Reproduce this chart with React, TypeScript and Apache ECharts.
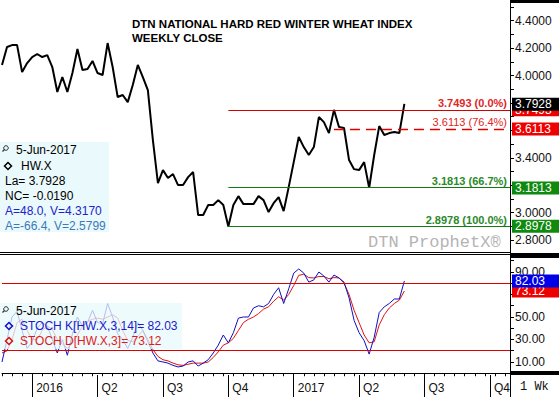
import React, { useEffect, useRef } from "react";
import * as echarts from "echarts";

// ---- categories: weekly closes (Mondays), from 23-Nov-2015 out to the end of 2017 Q4 axis
const WEEK_MS = 7 * 24 * 3600 * 1000;
const FIRST_WEEK = Date.UTC(2015, 10, 23);
const WEEK_COUNT = 102;
const weeks: string[] = Array.from({ length: WEEK_COUNT }, (_, i) =>
  new Date(FIRST_WEEK + i * WEEK_MS).toISOString().slice(0, 10)
);

// ---- DTN National Hard Red Winter Wheat Index, weekly close
const closes = [
  4.077, 4.208, 4.222, 4.222, 4.025, 4.091, 4.135, 4.157, 4.135, 4.149,
  4.062, 3.88, 3.989, 3.88, 4.018, 4.193, 4.04, 4.047, 4.106, 4.018,
  4.004, 4.237, 4.062, 3.843, 3.858, 3.806, 3.931, 4.077, 3.989, 3.894,
  3.529, 3.215, 3.31, 3.252, 3.281, 3.201, 3.201, 3.259, 3.296, 2.982,
  2.982, 3.055, 3.055, 3.091, 3.055, 2.8978, 3.055, 3.12, 3.062, 3.062,
  3.062, 3.12, 3.091, 3.004, 3.069, 3.113, 3.011, 3.186, 3.368, 3.551,
  3.478, 3.42, 3.478, 3.697, 3.66, 3.58, 3.7493, 3.624, 3.617, 3.383,
  3.317, 3.31, 3.368, 3.1813, 3.42, 3.631, 3.566, 3.58, 3.588, 3.58,
  3.7928,
];

// ---- Stochastics K (3,14) and D (3)
const stochK = [
  10, 30, 50, 55, 38, 22, 28, 40, 45, 42,
  30, 18, 30, 16, 35, 50, 42, 45, 56, 45,
  44, 62, 50, 35, 30, 22, 32, 45, 38, 28,
  18, 11, 10, 9, 7, 5.6, 6.4, 10, 11, 6.4,
  9, 12, 18, 25, 34, 27, 36, 49, 50, 50,
  58, 60, 59, 62, 70, 76, 62, 75, 89, 92.7,
  89, 81, 83, 90, 86.4, 81, 87.3, 84.7, 81, 67,
  47, 36, 29, 17, 32, 54, 59, 62, 66, 66,
  82.03,
];
const stochD = [
  18, 20, 30, 45, 48, 38, 30, 30, 38, 42,
  39, 30, 26, 22, 27, 34, 42, 46, 48, 49,
  48, 50, 52, 49, 38, 29, 28, 33, 38, 30,
  21, 15, 12, 11, 9, 7.5, 7, 8, 9, 9,
  9, 10, 14, 19, 25, 27, 31, 38, 45, 48,
  50, 53, 57, 59, 64, 68, 65, 70, 78, 87,
  88, 85, 84.7, 86, 86, 84, 85, 84.7, 80, 70,
  56, 45, 34, 27, 28, 43, 52, 58, 62, 65,
  73.12,
];

// ---- Fibonacci levels
const fibValues = [3.7493, 3.6113, 3.1813, 2.8978];
const fibTexts = ["3.7493 (0.0%)", "3.6113 (76.4%)", "3.1813 (66.7%)", "2.8978 (100.0%)"];
const fibStartWeek = ["2016-10-03", "2017-02-27", "2016-10-03", "2016-10-03"];

// ---- stochastic bands
const stochBands = [80, 20];

// ---- axis ticks / labels (labels hidden behind the value boxes are left out)
const priceLabelValues = [2.8, 3.0, 3.4, 4.0, 4.2, 4.4];
const priceTickValues = [2.8, 2.9, 3.0, 3.1, 3.2, 3.3, 3.4, 3.5, 3.6, 3.7, 3.8, 3.9, 4.0, 4.1, 4.2, 4.3, 4.4, 4.5];
const stochLabelValues = [10, 30, 50, 90];
const stochTickValues = [0, 10, 20, 30, 40, 50, 60, 70, 80, 90, 100];

const lastDate = "5-Jun-2017";
const topLegend = ["La= 3.7928", "NC= -0.0190", "A=48.0, V=4.3170", "A=-66.4, V=2.5799"];

const FONT = '"Liberation Sans", Arial, sans-serif';

function quarterOf(d: string) {
  return Math.floor((Number(d.slice(5, 7)) - 1) / 3);
}
function isQuarterStart(i: number) {
  if (i <= 0) return false;
  return quarterOf(weeks[i]) !== quarterOf(weeks[i - 1]);
}
function quarterLabel(d: string) {
  const q = quarterOf(d);
  return q === 0 ? d.slice(0, 4) : "Q" + (q + 1);
}

const RED_LINE = "#dd0000";
const GREEN_LINE = "#137a13";
const fibLineColor = ["#d40000", "#e00000", GREEN_LINE, GREEN_LINE];
const fibTextColor = ["#e02626", "#e02626", "#2a8a2a", "#2a8a2a"];
const fibBoxColor = ["#ee0000", "#ee0000", "#0f8a0f", "#0f8a0f"];
const HIDDEN_LINE = { color: "rgba(0,0,0,0)", width: 0 };

function boxLabel(text: string, bg: string) {
  return {
    show: true,
    position: "end",
    distance: 2,
    formatter: text,
    color: "#fff",
    backgroundColor: bg,
    fontSize: 12,
    fontFamily: FONT,
    lineHeight: 13,
    height: 13,
    width: 42,
    padding: [0, 2, 0, 3],
    align: "left",
  };
}

export default function App() {
  const ref = useRef<HTMLDivElement>(null);
  useEffect(() => {
    document.body.style.margin = "0";
    if (!ref.current) return;
    const chart = echarts.init(ref.current, undefined, { renderer: "svg" });
    const last = weeks[WEEK_COUNT - 1];

    const fibLines = fibValues.map((v, k) => {
      const mk = () => ({
        lineStyle: { color: fibLineColor[k], width: k === 1 ? 1.3 : 1, type: k === 1 ? [10, 6] : "solid", opacity: 1 },
        label: {
          show: true,
          position: "insideEndTop",
          distance: [3, 1],
          formatter: fibTexts[k],
          color: fibTextColor[k],
          fontSize: 11,
          fontWeight: k === 1 ? "normal" : "bold",
          fontFamily: FONT,
        },
      });
      return [
        { coord: [fibStartWeek[k], v], ...mk() },
        { coord: [last, v], ...mk() },
      ];
    });
    const fibBoxes = fibValues.map((v, k) => ({
      yAxis: v,
      lineStyle: HIDDEN_LINE,
      label: boxLabel(v.toFixed(4), fibBoxColor[k]),
    }));
    const lastClose = closes[closes.length - 1];
    const lastK = stochK[stochK.length - 1];
    const lastD = stochD[stochD.length - 1];

    const option: any = {
      animation: false,
      backgroundColor: "#ffffff",
      grid: [
        { left: 2, right: 49, top: 0, height: 252 },
        { left: 2, right: 49, top: 255, height: 120 },
      ],
      xAxis: [
        { gridIndex: 0, type: "category", data: weeks, boundaryGap: false, show: false, position: "bottom" },
        {
          gridIndex: 1, type: "category", data: weeks, boundaryGap: false, position: "bottom", offset: 0,
          axisLine: { show: true, lineStyle: { color: "#000", width: 1 } },
          axisTick: { show: true, interval: (i: number) => i % 2 === 0, length: 3, lineStyle: { color: "#000" } },
          axisLabel: { show: false },
          splitLine: { show: false },
        },
        {
          gridIndex: 1, type: "category", data: weeks, boundaryGap: false, position: "bottom", offset: 0,
          axisLine: { show: false },
          axisTick: { show: true, interval: (i: number) => isQuarterStart(i), length: 22, lineStyle: { color: "#000" } },
          axisLabel: {
            show: true, interval: (i: number) => isQuarterStart(i), formatter: (d: string) => quarterLabel(d),
            align: "left", padding: [0, 0, 0, 4], margin: 7, fontSize: 12, color: "#111", fontFamily: FONT,
          },
          splitLine: { show: false },
        },
      ],
      yAxis: [
        {
          gridIndex: 0, type: "value", position: "right", min: 2.7125, max: 4.551,
          axisLine: { show: true, lineStyle: { color: "#000" } },
          axisTick: { show: true, customValues: priceTickValues, length: 4, lineStyle: { color: "#000" } },
          axisLabel: {
            customValues: priceLabelValues, formatter: (v: number) => v.toFixed(4),
            margin: 5, fontSize: 12, color: "#111", fontFamily: FONT,
          },
          splitLine: { show: false },
        },
        {
          gridIndex: 1, type: "value", position: "right", min: -1.56, max: 105.1,
          axisLine: { show: true, lineStyle: { color: "#000" } },
          axisTick: { show: true, customValues: stochTickValues, length: 4, lineStyle: { color: "#000" } },
          axisLabel: {
            customValues: stochLabelValues, formatter: (v: number) => v.toFixed(2),
            margin: 5, fontSize: 12, color: "#111", fontFamily: FONT,
          },
          splitLine: { show: false },
        },
      ],
      series: [
        {
          name: "HW.X", type: "line", xAxisIndex: 0, yAxisIndex: 0, data: closes,
          symbol: "none", lineStyle: { color: "#000", width: 2 }, z: 3,
          markLine: {
            silent: true, symbol: ["none", "none"], animation: false,
            data: [
              ...fibLines,
              ...fibBoxes,
              { yAxis: lastClose, lineStyle: HIDDEN_LINE, label: boxLabel(lastClose.toFixed(4), "#000") },
            ],
          },
        },
        {
          name: "STOCH D", type: "line", xAxisIndex: 1, yAxisIndex: 1, data: stochD,
          symbol: "none", lineStyle: { color: "#e01010", width: 1 }, z: 3,
          markLine: {
            silent: true, symbol: ["none", "none"], animation: false,
            data: [
              ...stochBands.map((b) => ({ yAxis: b, lineStyle: { color: RED_LINE, width: 1, type: "solid" }, label: { show: false } })),
              { yAxis: lastD, lineStyle: HIDDEN_LINE, label: boxLabel(lastD.toFixed(2), "#ee0000") },
            ],
          },
        },
        {
          name: "STOCH K", type: "line", xAxisIndex: 1, yAxisIndex: 1, data: stochK,
          symbol: "none", lineStyle: { color: "#1010c0", width: 1 }, z: 4,
          markLine: {
            silent: true, symbol: ["none", "none"], animation: false,
            data: [
              { yAxis: lastK, lineStyle: HIDDEN_LINE, label: boxLabel(lastK.toFixed(2), "#0000e6") },
            ],
          },
        },
      ],
      graphic: [
        // title
        {
          type: "text", x: 132, y: 17, z: 50,
          style: { text: "DTN NATIONAL HARD RED WINTER WHEAT INDEX\nWEEKLY CLOSE", font: 'bold 11.5px "Liberation Sans"', fill: "#000", lineHeight: 14 },
        },
        // watermark
        {
          type: "text", x: 368, y: 242, z: 50,
          style: { text: "DTN ProphetX®", font: '17px "Liberation Mono"', fill: "#b4b4b4", verticalAlign: "middle" },
        },
        // panel separators
        { type: "line", z: 60, shape: { x1: 0, y1: 252.5, x2: 510, y2: 252.5 }, style: { stroke: "#000", lineWidth: 1 } },
        { type: "line", z: 60, shape: { x1: 0, y1: 254.5, x2: 510, y2: 254.5 }, style: { stroke: "#000", lineWidth: 1 } },
        { type: "line", z: 60, shape: { x1: 510.5, y1: 0, x2: 510.5, y2: 397 }, style: { stroke: "#000", lineWidth: 1 } },
        { type: "rect", z: 60, shape: { x: 510, y: 0, width: 49, height: 3 }, style: { fill: "#000" } },
        { type: "rect", z: 60, shape: { x: 510, y: 253, width: 49, height: 5 }, style: { fill: "#000" } },
        { type: "rect", z: 60, shape: { x: 510, y: 371, width: 49, height: 4 }, style: { fill: "#000" } },
        {
          type: "text", x: 520, y: 387, z: 60,
          style: { text: "1 Wk", font: '12px "Liberation Mono"', fill: "#111", verticalAlign: "middle" },
        },
        // upper legend
        { type: "rect", z: 40, shape: { x: 0, y: 142, width: 109, height: 90 }, style: { fill: "rgba(232,249,252,0.9)" } },
        { type: "circle", z: 41, shape: { cx: 6, cy: 148, r: 2.3 }, style: { stroke: "#333", fill: "none", lineWidth: 1 } },
        { type: "line", z: 41, shape: { x1: 4.5, y1: 149.5, x2: 2.5, y2: 151.5 }, style: { stroke: "#333", lineWidth: 1.2 } },
        { type: "text", x: 16, y: 150, z: 41, style: { text: lastDate, font: `12px ${FONT}`, fill: "#000", verticalAlign: "middle" } },
        { type: "polygon", z: 41, shape: { points: [[8, 162.5], [11.5, 166], [8, 169.5], [4.5, 166]] }, style: { stroke: "#000", fill: "none", lineWidth: 1.5 } },
        { type: "text", x: 21, y: 166, z: 41, style: { text: "HW.X", font: `12px ${FONT}`, fill: "#000", verticalAlign: "middle" } },
        ...topLegend.map((t, k) => ({
          type: "text", x: 5, y: 181 + 15 * k, z: 41,
          style: { text: t, font: `12px ${FONT}`, fill: k < 2 ? "#000" : k === 2 ? "#2222cc" : "#3a78b8", verticalAlign: "middle" },
        })),
        // lower legend
        { type: "rect", z: 40, shape: { x: 0, y: 303, width: 182, height: 46 }, style: { fill: "rgba(232,249,252,0.75)" } },
        { type: "circle", z: 41, shape: { cx: 6, cy: 309, r: 2.3 }, style: { stroke: "#333", fill: "none", lineWidth: 1 } },
        { type: "line", z: 41, shape: { x1: 4.5, y1: 310.5, x2: 2.5, y2: 312.5 }, style: { stroke: "#333", lineWidth: 1.2 } },
        { type: "text", x: 16, y: 311, z: 41, style: { text: lastDate, font: `12px ${FONT}`, fill: "#000", verticalAlign: "middle" } },
        { type: "polygon", z: 41, shape: { points: [[9, 322.5], [12.5, 326], [9, 329.5], [5.5, 326]] }, style: { stroke: "#1010c8", fill: "none", lineWidth: 1.5 } },
        { type: "text", x: 20, y: 326, z: 41, style: { text: "STOCH K[HW.X,3,14]= " + lastK.toFixed(2), font: `12px ${FONT}`, fill: "#1a1ac8", verticalAlign: "middle" } },
        { type: "polygon", z: 41, shape: { points: [[9, 337.5], [12.5, 341], [9, 344.5], [5.5, 341]] }, style: { stroke: "#e01010", fill: "none", lineWidth: 1.5 } },
        { type: "text", x: 20, y: 341, z: 41, style: { text: "STOCH D[HW.X,3]= " + lastD.toFixed(2), font: `12px ${FONT}`, fill: "#e01a1a", verticalAlign: "middle" } },
      ],
    };
    chart.setOption(option);
    return () => chart.dispose();
  }, []);
  return <div ref={ref} style={{ position: "fixed", left: 0, top: 0, width: 559, height: 397 }} />;
}
